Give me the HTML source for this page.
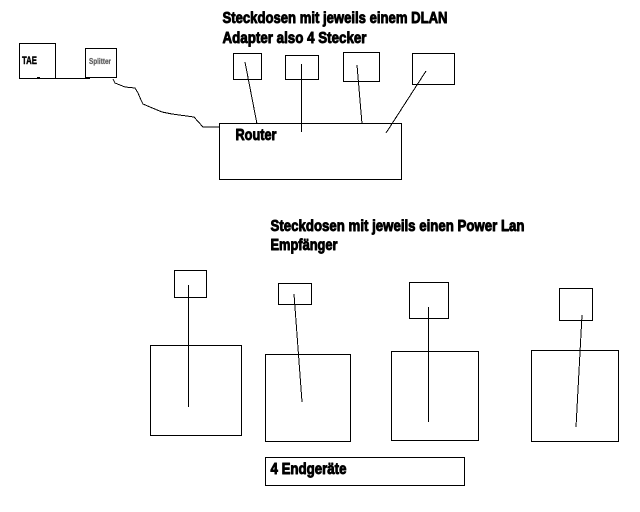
<!DOCTYPE html>
<html>
<head>
<meta charset="utf-8">
<style>
html,body{margin:0;padding:0;background:#fff;width:640px;height:512px;overflow:hidden}
svg{display:block}
text{font-family:"Liberation Sans Narrow","Liberation Sans",sans-serif;font-weight:bold;fill:#000;stroke:#000;stroke-width:.9px;stroke-linejoin:round}
rect,line,polyline{fill:none;stroke:#000;stroke-width:1}
</style>
</head>
<body>
<svg width="640" height="512" viewBox="0 0 640 512" xmlns="http://www.w3.org/2000/svg">
<rect x="0" y="0" width="640" height="512" style="fill:#fff;stroke:none"/>
<g shape-rendering="crispEdges">
<rect x="19.5" y="43.5" width="36" height="35"/>
<rect x="85.5" y="48.5" width="31" height="29"/>
<line x1="55" y1="78.5" x2="90" y2="78.5"/>
<rect x="37" y="77" width="3" height="1" style="fill:#000;stroke:none"/>
<rect x="219.5" y="123.5" width="182" height="56"/>
<rect x="233.5" y="53.5" width="28" height="26"/>
<rect x="285.5" y="55.5" width="33" height="24"/>
<rect x="343.5" y="52.5" width="36" height="29"/>
<rect x="412.5" y="53.5" width="42" height="31"/>
<rect x="174.5" y="270.5" width="32" height="27"/>
<rect x="150.5" y="345.5" width="91" height="90"/>
<rect x="278.5" y="283.5" width="33" height="21"/>
<rect x="265.5" y="354.5" width="85" height="87"/>
<rect x="409.5" y="282.5" width="39" height="36"/>
<rect x="391.5" y="351.5" width="87" height="89"/>
<rect x="559.5" y="288.5" width="33" height="32"/>
<rect x="531.5" y="350.5" width="87" height="91"/>
<rect x="265.5" y="457.5" width="199" height="28"/>
<line x1="301.5" y1="64" x2="301.5" y2="132"/>
<line x1="188.5" y1="285" x2="188.5" y2="407"/>
<line x1="428.5" y1="307" x2="428.5" y2="422"/>
<polyline points="113,79 115,83 125,87 135,88 138,93 141,100 143,104 150,107 162,112 172,114 194,117 203,127 219,127"/>
<line x1="245" y1="62" x2="257" y2="124"/>
<line x1="357" y1="65" x2="362" y2="124"/>
<line x1="426" y1="71" x2="386" y2="133"/>
<line x1="294" y1="294" x2="302" y2="402"/>
<line x1="582" y1="315" x2="576" y2="427"/>
</g>
<text x="222.5" y="23" font-size="15.5" textLength="225" lengthAdjust="spacingAndGlyphs">Steckdosen mit jeweils einem DLAN</text>
<text x="222.5" y="43" font-size="15.5" textLength="144" lengthAdjust="spacingAndGlyphs">Adapter also 4 Stecker</text>
<text x="235.5" y="140" font-size="15.5" textLength="41" lengthAdjust="spacingAndGlyphs">Router</text>
<text x="270.5" y="231" font-size="15.5" textLength="254" lengthAdjust="spacingAndGlyphs">Steckdosen mit jeweils einen Power Lan</text>
<text x="270.5" y="250" font-size="15.5" textLength="67" lengthAdjust="spacingAndGlyphs">Empfänger</text>
<text x="270.5" y="474" font-size="15.5" textLength="76" lengthAdjust="spacingAndGlyphs">4 Endgeräte</text>
<text x="22" y="64" font-size="11" textLength="15" lengthAdjust="spacingAndGlyphs" style="stroke-width:.4px">TAE</text>
<text x="89" y="64" font-size="8" textLength="22" lengthAdjust="spacingAndGlyphs" style="fill:#555;stroke:#777;stroke-width:.3px">Splitter</text>
</svg>
</body>
</html>
